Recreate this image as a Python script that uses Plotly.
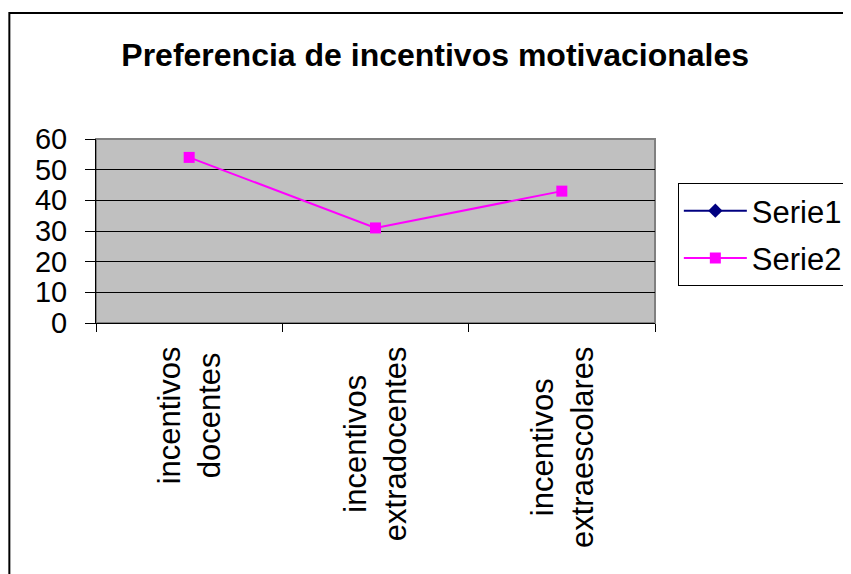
import plotly.graph_objects as go

categories = [
    "incentivos docentes",
    "incentivos extradocentes",
    "incentivos extraescolares",
]
category_labels = [
    "incentivos<br>docentes",
    "incentivos<br>extradocentes",
    "incentivos<br>extraescolares",
]
serie1 = [None, None, None]
serie2 = [54, 31, 43]

FONT = "Arial, Liberation Sans, sans-serif"

fig = go.Figure()
fig.add_trace(
    go.Scatter(
        x=categories,
        y=serie1,
        name="Serie1",
        legendgroup="s1",
        mode="lines+markers",
        line=dict(color="#000080", width=2),
        marker=dict(symbol="diamond", size=11, color="#000080"),
    )
)
fig.add_trace(
    go.Scatter(
        x=categories,
        y=serie2,
        name="Serie2",
        legendgroup="s2",
        mode="lines+markers",
        line=dict(color="#FF00FF", width=2),
        marker=dict(symbol="square", size=11, color="#FF00FF"),
    )
)

# page has an 8px body offset, so margins are shifted up/left by 8
fig.update_layout(
    width=851,
    height=574,
    margin=dict(l=88, r=203, t=131, b=259),
    paper_bgcolor="white",
    plot_bgcolor="#C0C0C0",
    font=dict(family=FONT, size=31, color="black"),
    title=dict(
        text="<b>Preferencia de incentivos motivacionales</b>",
        x=0.502,
        xanchor="center",
        y=0.918,
        yanchor="middle",
        font=dict(size=32),
    ),
    legend=dict(
        x=1.039,
        xanchor="left",
        y=0.761,
        yanchor="top",
        bordercolor="black",
        borderwidth=1,
        bgcolor="white",
        font=dict(size=31),
        tracegroupgap=4,
        itemwidth=63,
    ),
    showlegend=True,
)

fig.update_xaxes(
    type="category",
    range=[-0.5, 2.5],
    tickson="boundaries",
    ticks="outside",
    ticklen=8,
    tickcolor="black",
    showline=True,
    linecolor="black",
    linewidth=1,
    showgrid=False,
    showticklabels=False,
)
fig.update_yaxes(
    range=[0, 60],
    dtick=10,
    ticks="outside",
    ticklen=10,
    tickcolor="black",
    showline=True,
    linecolor="black",
    linewidth=1,
    showgrid=True,
    gridcolor="black",
    gridwidth=1,
    zeroline=False,
    ticklabelstandoff=12,
    tickfont=dict(size=29),
)

# rotated category labels, block top-aligned, lines centred
for cat, label in zip(categories, category_labels):
    fig.add_annotation(
        x=cat,
        xref="x",
        y=-0.115,
        yref="paper",
        text=label,
        textangle=-90,
        showarrow=False,
        xanchor="center",
        yanchor="top",
        align="center",
        font=dict(size=31),
    )

# gray plot-area frame (top / right)
fig.add_shape(
    type="rect",
    xref="x domain",
    yref="y domain",
    x0=0,
    x1=1,
    y0=0,
    y1=1,
    line=dict(color="#808080", width=2),
    layer="below",
)
# outer chart border
fig.add_shape(
    type="rect",
    xref="paper",
    yref="paper",
    x0=-0.155,
    x1=2,
    y0=-2,
    y1=1.685,
    line=dict(color="black", width=2),
)

fig.write_html("out.html")
